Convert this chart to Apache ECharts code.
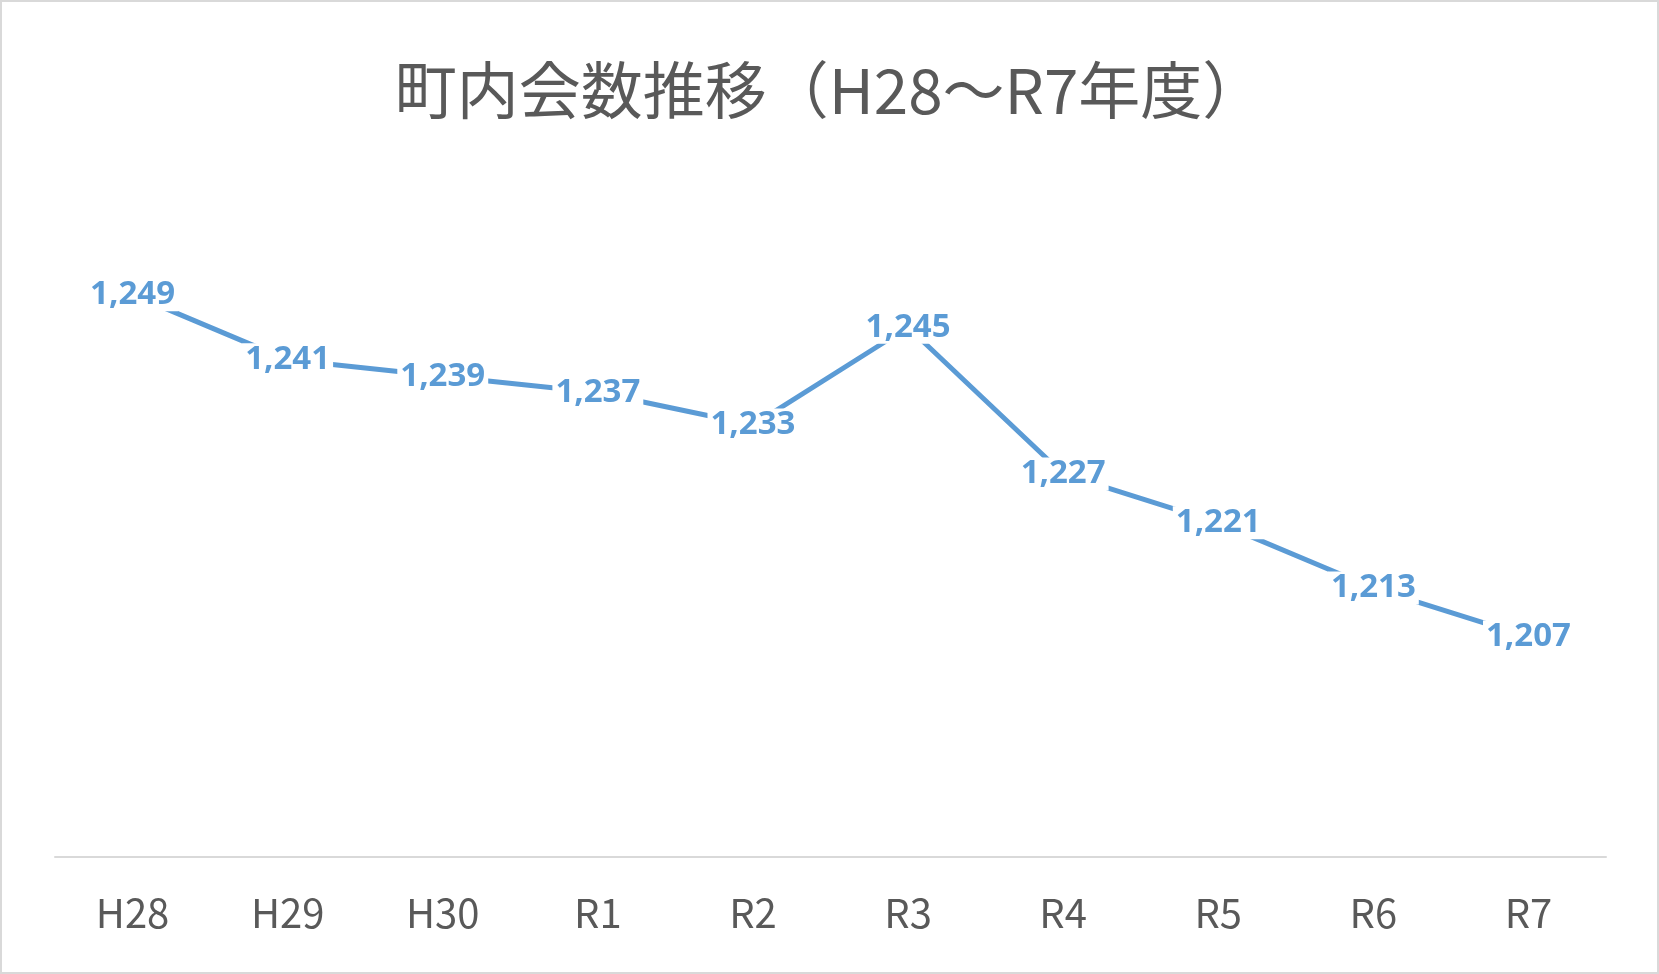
<!DOCTYPE html>
<html><head><meta charset="utf-8">
<script src="https://cdn.jsdelivr.net/npm/echarts@6/dist/echarts.min.js"></script>
<style>html,body{margin:0;padding:0;background:#fff}#c{width:1659px;height:974px;box-sizing:border-box;border:2px solid #d9d9d9}</style>
</head><body><div id="c"></div>
<script>
const categories = ['H28','H29','H30','R1','R2','R3','R4','R5','R6','R7'];
const values = [1249,1241,1239,1237,1233,1245,1227,1221,1213,1207];
const chart = echarts.init(document.getElementById('c'));
chart.setOption({
  animation:false,
  title:{text:'町内会数推移（H28～R7年度）',left:'center',top:52,
    textStyle:{fontFamily:'Noto Sans CJK JP',fontSize:62,fontWeight:'normal',color:'#595959'}},
  grid:{left:53,right:51,top:203,bottom:115},
  xAxis:{type:'category',data:categories,boundaryGap:true,
    axisLine:{lineStyle:{color:'#d9d9d9',width:2}},axisTick:{show:false},
    axisLabel:{fontFamily:'Noto Sans CJK JP',fontSize:40,color:'#595959',margin:36}},
  yAxis:{type:'value',min:1180,max:1260,show:false,splitLine:{show:false}},
  series:[{type:'line',data:values,symbol:'circle',symbolSize:2,showSymbol:true,
    itemStyle:{color:'#5b9bd5'},
    lineStyle:{color:'#5b9bd5',width:5},
    label:{show:true,position:'inside',formatter:p=>p.value.toLocaleString('en-US'),
      fontFamily:'Noto Sans',fontWeight:'bold',fontSize:33,color:'#5b9bd5',
      backgroundColor:'#fff',padding:[0,3]}}]
});
</script></body></html>
